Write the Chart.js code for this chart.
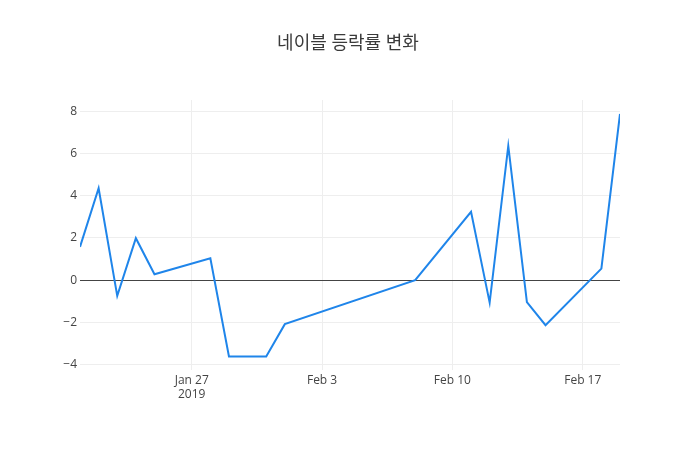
<!DOCTYPE html>
<html>
<head>
<meta charset="utf-8">
<script src="https://cdn.jsdelivr.net/npm/chart.js@4/dist/chart.umd.min.js"></script>
<style>
  html, body { margin: 0; padding: 0; background: #fff; }
  #wrap { width: 700px; height: 450px; position: relative; }
</style>
</head>
<body>
<div id="wrap"><canvas id="c" width="700" height="450"></canvas></div>
<script>
const title = "네이블 등락률 변화";
const dates = ["2019-01-21","2019-01-22","2019-01-23","2019-01-24","2019-01-25",
               "2019-01-28","2019-01-29","2019-01-30","2019-01-31","2019-02-01",
               "2019-02-08","2019-02-11","2019-02-12","2019-02-13","2019-02-14",
               "2019-02-15","2019-02-18","2019-02-19"];
const changes = [1.58, 4.35, -0.74, 1.99, 0.28,
                 1.04, -3.61, -3.61, -3.61, -2.08,
                 0.0, 3.24, -1.06, 6.36, -1.04,
                 -2.13, 0.55, 7.87];
const xTickDates = ["2019-01-27","2019-02-03","2019-02-10","2019-02-17"];
const xTickLabels = [["Jan 27","2019"],"Feb 3","Feb 10","Feb 17"];
const yTicks = [-4, -2, 0, 2, 4, 6, 8];

const base = Date.UTC(2019, 0, 21);
const toDay = s => { const p = s.split("-").map(Number); return (Date.UTC(p[0], p[1]-1, p[2]) - base) / 86400000; };
const points = dates.map((d, i) => ({ x: toDay(d), y: changes[i] }));
const xTickVals = xTickDates.map(toDay);

const FONT = "'Open Sans', 'Noto Sans CJK KR', sans-serif";

const titlePlugin = {
  id: 'plotTitle',
  afterDraw(chart) {
    const ctx = chart.ctx;
    ctx.save();
    ctx.font = "18px " + FONT;
    ctx.fillStyle = "#3a3a3a";
    ctx.textAlign = "center";
    ctx.textBaseline = "middle";
    ctx.fillText(title, 348, 44);
    ctx.restore();
  }
};

new Chart(document.getElementById('c'), {
  type: 'line',
  data: {
    datasets: [{
      data: points,
      borderColor: '#1f85ea',
      borderWidth: 2,
      pointRadius: 0,
      tension: 0,
      fill: false
    }]
  },
  options: {
    responsive: false,
    animation: false,
    layout: { padding: { top: 100, right: 80, left: 0, bottom: 0 } },
    plugins: { legend: { display: false }, tooltip: { enabled: false }, title: { display: false } },
    scales: {
      x: {
        type: 'linear',
        min: 0,
        max: 29,
        afterBuildTicks(scale) { scale.ticks = xTickVals.map(v => ({ value: v })); },
        afterFit(scale) { scale.height = 80; },
        ticks: {
          autoSkip: false,
          maxRotation: 0,
          padding: 3,
          color: '#444',
          font: { family: FONT, size: 12 },
          callback(value) {
            const i = xTickVals.indexOf(value);
            return i >= 0 ? xTickLabels[i] : '';
          }
        },
        grid: { color: '#eee', lineWidth: 1, drawTicks: false },
        border: { display: false }
      },
      y: {
        type: 'linear',
        min: -4.25,
        max: 8.53,
        afterBuildTicks(scale) { scale.ticks = yTicks.map(v => ({ value: v })); },
        afterFit(scale) { scale.width = 80; },
        ticks: {
          padding: 3,
          color: '#444',
          font: { family: FONT, size: 12 },
          callback(value) { return String(value).replace('-', '\u2212'); }
        },
        grid: {
          color: ctx => (ctx.tick && ctx.tick.value === 0) ? '#444' : '#eee',
          lineWidth: 1,
          drawTicks: false
        },
        border: { display: false }
      }
    }
  },
  plugins: [titlePlugin]
});
</script>
</body>
</html>
